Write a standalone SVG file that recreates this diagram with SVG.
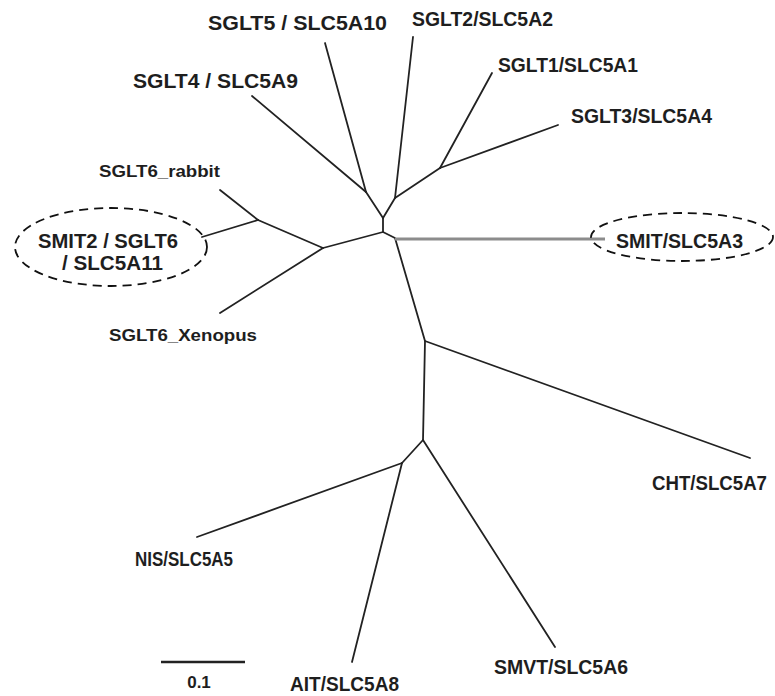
<svg xmlns="http://www.w3.org/2000/svg" width="775" height="696" viewBox="0 0 775 696">
  <style>
    .br { stroke: #222; stroke-width: 1.8; fill: none; stroke-linecap: round; stroke-linejoin: round; }
    .gray { stroke: #8c8c8c; stroke-width: 3; fill: none; }
    .lbl { font-family: "Liberation Sans", Arial, sans-serif; font-weight: bold; fill: #1e1e1e; }
    .ring { fill: none; stroke: #111; stroke-width: 1.8; stroke-dasharray: 9 6; }
  </style>
  <rect width="775" height="696" fill="#fff"/>

  <!-- tree branches -->
  <g id="connectors">
    <!-- central backbone -->
    <polyline class="br" points="383,218 383,232 395,238 425,341 423,440 402,463"/>
    <line class="br" x1="366" y1="192" x2="383" y2="218"/>
    <line class="br" x1="395" y1="198" x2="383" y2="218"/>
    <!-- SGLT4 / SGLT5 -->
    <line class="br" x1="366" y1="192" x2="325" y2="43"/>
    <line class="br" x1="366" y1="192" x2="252" y2="96"/>
    <!-- SGLT2 and SGLT1/SGLT3 clade -->
    <line class="br" x1="395" y1="198" x2="413" y2="37"/>
    <line class="br" x1="395" y1="198" x2="440" y2="168"/>
    <line class="br" x1="440" y1="168" x2="492" y2="73"/>
    <line class="br" x1="440" y1="168" x2="558" y2="125"/>
    <!-- SGLT6 clade -->
    <line class="br" x1="383" y1="232" x2="323" y2="248"/>
    <line class="br" x1="323" y1="248" x2="258" y2="220"/>
    <line class="br" x1="258" y1="220" x2="220" y2="190"/>
    <line class="br" x1="258" y1="220" x2="202" y2="237"/>
    <line class="br" x1="323" y1="248" x2="220" y2="313"/>
    <!-- SMIT -->
    <line class="gray" x1="395" y1="239" x2="605" y2="239"/>
    <!-- CHT -->
    <line class="br" x1="425" y1="341" x2="750" y2="458"/>
    <!-- SMVT -->
    <line class="br" x1="423" y1="440" x2="555" y2="647"/>
    <!-- NIS / AIT -->
    <line class="br" x1="402" y1="463" x2="197" y2="537"/>
    <line class="br" x1="402" y1="463" x2="352" y2="662"/>
  </g>

  <!-- leaf labels -->
  <g id="SGLT5"><text class="lbl" x="208" y="30" font-size="20" textLength="179" lengthAdjust="spacingAndGlyphs">SGLT5 / SLC5A10</text></g>
  <g id="SGLT4"><text class="lbl" x="133" y="88" font-size="20" textLength="165" lengthAdjust="spacingAndGlyphs">SGLT4 / SLC5A9</text></g>
  <g id="SGLT2"><text class="lbl" x="412" y="26" font-size="20" textLength="141" lengthAdjust="spacingAndGlyphs">SGLT2/SLC5A2</text></g>
  <g id="SGLT1"><text class="lbl" x="498" y="72" font-size="20" textLength="140" lengthAdjust="spacingAndGlyphs">SGLT1/SLC5A1</text></g>
  <g id="SGLT3"><text class="lbl" x="571" y="123" font-size="20" textLength="141" lengthAdjust="spacingAndGlyphs">SGLT3/SLC5A4</text></g>
  <g id="SGLT6_rabbit"><text class="lbl" x="99" y="177" font-size="16" textLength="121" lengthAdjust="spacingAndGlyphs">SGLT6_rabbit</text></g>
  <g id="SMIT2">
    <ellipse class="ring" cx="111" cy="247" rx="96" ry="39"/>
    <text class="lbl" x="38" y="248" font-size="20" textLength="140" lengthAdjust="spacingAndGlyphs">SMIT2 / SGLT6</text>
    <text class="lbl" x="62" y="270" font-size="20" textLength="101" lengthAdjust="spacingAndGlyphs">/ SLC5A11</text>
  </g>
  <g id="SGLT6_Xenopus"><text class="lbl" x="109" y="341" font-size="17" textLength="148" lengthAdjust="spacingAndGlyphs">SGLT6_Xenopus</text></g>
  <g id="SMIT">
    <ellipse class="ring" cx="682" cy="237" rx="91" ry="24"/>
    <text class="lbl" x="616" y="248" font-size="21" textLength="127" lengthAdjust="spacingAndGlyphs">SMIT/SLC5A3</text>
  </g>
  <g id="CHT"><text class="lbl" x="652" y="490" font-size="20" textLength="115" lengthAdjust="spacingAndGlyphs">CHT/SLC5A7</text></g>
  <g id="SMVT"><text class="lbl" x="494" y="674" font-size="20" textLength="134" lengthAdjust="spacingAndGlyphs">SMVT/SLC5A6</text></g>
  <g id="NIS"><text class="lbl" x="135" y="566" font-size="20" textLength="98" lengthAdjust="spacingAndGlyphs">NIS/SLC5A5</text></g>
  <g id="AIT"><text class="lbl" x="290" y="691" font-size="20" textLength="109" lengthAdjust="spacingAndGlyphs">AIT/SLC5A8</text></g>

  <!-- scale bar -->
  <g id="scale">
    <line x1="161" y1="662" x2="245" y2="662" stroke="#222" stroke-width="2.5"/>
    <text class="lbl" x="199" y="688" font-size="17" text-anchor="middle">0.1</text>
  </g>
</svg>
